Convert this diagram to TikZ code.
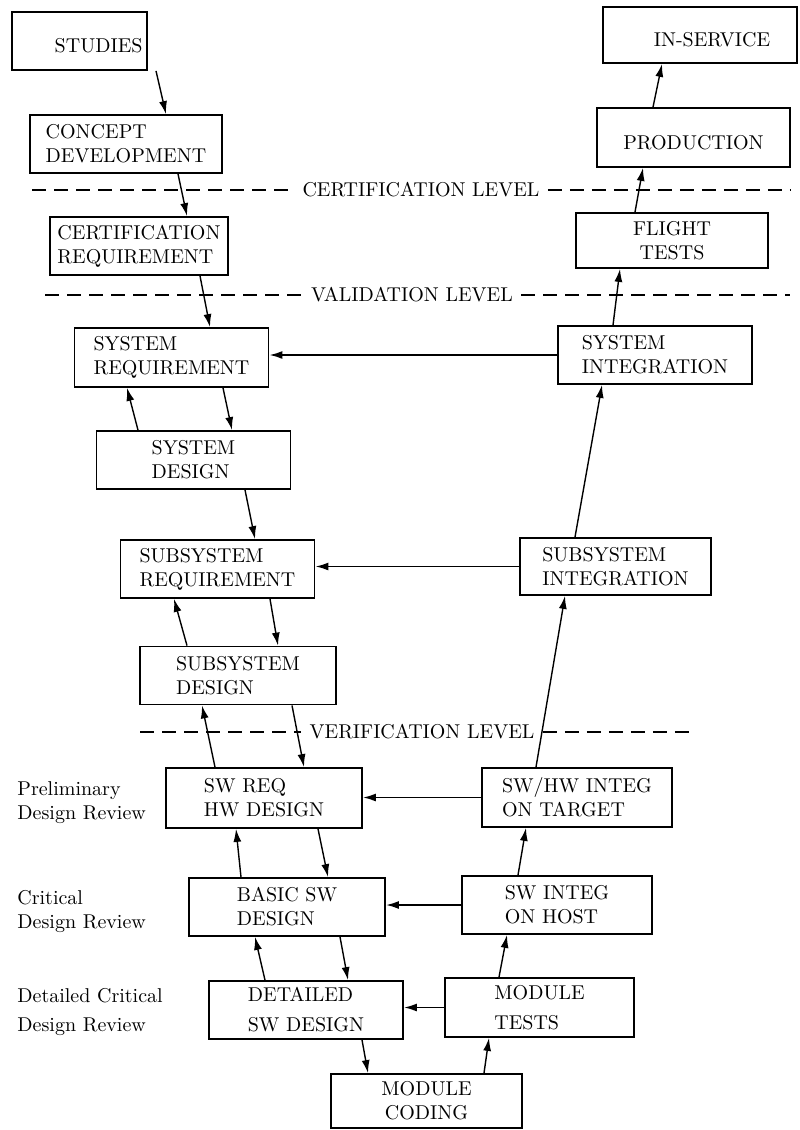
\documentclass[tikz,border=0pt]{standalone}
\usetikzlibrary{arrows.meta}

\begin{document}
\begin{tikzpicture}[x=0.5pt, y=-0.5pt,
    box/.style={draw, line width=0.9pt, align=center, inner sep=2pt,
      minimum width=97pt, minimum height=29pt},
    side/.style={anchor=west, align=left, inner sep=0pt},
    lvl/.style={inner xsep=4pt, inner ysep=0pt},
    arr/.style={line width=0.7pt, -{Latex[length=6.5pt,width=4pt]}},
    level/.style={line width=0.6pt, dash pattern=on 7pt off 4pt}]
  \useasboundingbox (0,0) rectangle (799,1130);
  % left leg: requirements and design
  \node[box, minimum width=67.5pt, text width=63pt, align=right] (studies) at (79.5,41) {\mbox{}\\STUDIES};
  \node[box, minimum width=96pt, align=left] (concept) at (126,144) {CONCEPT\\DEVELOPMENT};
  \node[box, minimum width=89pt, align=left] (certreq) at (139,246) {CERTIFICATION\\REQUIREMENT};
  \node[box, minimum height=29.5pt, align=left] (sysreq) at (171.5,357.5) {SYSTEM\\REQUIREMENT};
  \node[box, align=left] (sysdes) at (193.5,460) {SYSTEM\\DESIGN};
  \node[box, align=left] (subreq) at (217.5,569) {SUBSYSTEM\\REQUIREMENT};
  \node[box, minimum width=98pt, align=left] (subdes) at (238,675.5) {SUBSYSTEM\\DESIGN};
  \node[box, minimum width=98pt, minimum height=30pt, align=left] (swreq) at (264,798) {SW REQ\\HW DESIGN};
  \node[box, minimum width=98pt, align=left] (basic) at (287,907) {BASIC SW\\DESIGN};
  \node[box, align=left] (detailed) at (306,1010) {DETAILED\\[3pt]SW DESIGN};
  \node[box, minimum width=95.5pt, minimum height=27pt] (coding) at (426.5,1101) {MODULE\\CODING};
  % right leg: integration and tests
  \node[box, minimum width=94.5pt, minimum height=29.5pt, align=left] (mtests) at (539.5,1007.5) {MODULE\\[3pt]TESTS};
  \node[box, minimum width=95pt, align=left] (host) at (557,905) {SW INTEG\\ON HOST};
  \node[box, minimum width=95pt, minimum height=29.5pt, align=left] (swhw) at (577,797.5) {SW/HW INTEG\\ON TARGET};
  \node[box, minimum width=95.5pt, minimum height=28.5pt, align=left] (subint) at (615.5,566.5) {SUBSYSTEM\\INTEGRATION};
  \node[box, align=left] (sysint) at (655,355) {SYSTEM\\INTEGRATION};
  \node[box, minimum width=96pt, minimum height=27.5pt] (flight) at (672,240.5) {FLIGHT\\TESTS};
  \node[box, minimum width=96.5pt, minimum height=29.5pt] (production) at (693.5,137.5) {\mbox{}\\PRODUCTION};
  \node[box, minimum width=97pt, minimum height=28pt] (inservice) at (700,35) {\mbox{}\\\hspace*{12pt}IN-SERVICE};
  % review names
  \node[side] (pdr) at (17,803) {Preliminary\\Design Review};
  \node[side] (cdr) at (17,911) {Critical\\Design Review};
  \node[side] (dcdr) at (17,1012) {Detailed Critical\\[2.5pt]Design Review};
  % levels
  \foreach \n/\y/\xa/\xb/\xl/\t in {cert/190/32/790/421/CERTIFICATION,
      valid/295/45/790/412/VALIDATION, verif/732/140/693/422/VERIFICATION}{
    \node[lvl] (\n) at (\xl,\y) {\t\ LEVEL};
    \draw[level] (\xa,\y) -- (\n.west);
    \draw[level] (\n.east) -- (\xb,\y);
  }
  % going down
  \foreach \a/\xa/\b/\xb in {studies/156/concept/166, concept/178/certreq/187,
      certreq/200/sysreq/210, sysreq/223/sysdes/232, sysdes/245/subreq/255,
      subreq/270/subdes/278, subdes/292/swreq/304, swreq/318/basic/328,
      basic/340/detailed/348, detailed/362/coding/368}{
    \draw[arr] (\a.south -| \xa,0) -- (\b.north -| \xb,0);
  }
  % going up
  \foreach \a/\xa/\b/\xb in {production/653/inservice/662, flight/635/production/643,
      sysint/613/flight/620, subint/575/sysint/602, swhw/536/subint/565,
      host/518/swhw/526, mtests/499/host/507, coding/484/mtests/489,
      sysdes/138/sysreq/127, subdes/187/subreq/174, swreq/215/subdes/202,
      basic/241/swreq/236, detailed/265/basic/255}{
    \draw[arr] (\a.north -| \xa,0) -- (\b.south -| \xb,0);
  }
  % across
  \foreach \a/\b in {sysint/sysreq, subint/subreq, swhw/swreq, host/basic, mtests/detailed}{
    \draw[arr, line width=0.9pt] (\a.west) -- (\a.west -| \b.east);
  }
\end{tikzpicture}
\end{document}
